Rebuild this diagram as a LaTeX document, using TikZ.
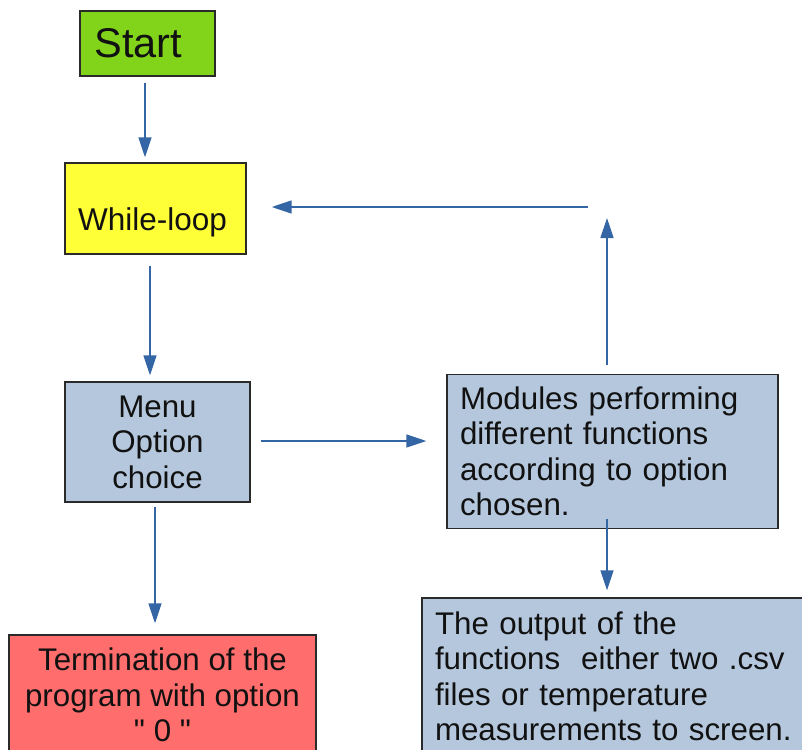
\documentclass[tikz,border=0pt]{standalone}
\usepackage{fontspec}
\setmainfont{Liberation Sans}[Ligatures=TeXOff]
\usetikzlibrary{arrows.meta,calc}
\definecolor{cgreen}{HTML}{81D41A}
\definecolor{cyellow}{HTML}{FFFF38}
\definecolor{cblue}{HTML}{B4C7DC}
\definecolor{cred}{HTML}{FF6D6D}
\definecolor{carrow}{HTML}{3465A4}
\definecolor{cborder}{HTML}{2A2A2A}
\definecolor{ctext}{HTML}{111111}
\tikzset{
  box/.style={draw=cborder, line width=1.4pt, rectangle, inner sep=0pt, text=ctext},
  txt/.style={text=ctext, inner sep=0pt},
  body/.style={font=\fontsize{31.3}{35.5}\selectfont},
  conn/.style={draw=carrow, line width=1.5pt, -{Triangle[length=20pt,width=13pt]}},
}
\begin{document}
\begin{tikzpicture}[x=1pt,y=-1pt]
\useasboundingbox (0,0) rectangle (802,749);
\begin{scope}
\clip (0,0) rectangle (802,749);
% boxes
\node[box, fill=cgreen, minimum width=135pt, minimum height=65pt] (start) at (147.5,43.5) {};
\node[txt, font=\fontsize{41.5}{46}\selectfont, anchor=west] (starttext) at (94.5,43) {Start};
\node[box, fill=cyellow, minimum width=181pt, minimum height=91pt] (while) at (155.5,208.5) {};
\node[txt, font=\fontsize{31.5}{36}\selectfont] (whiletext) at (152.5,222) {While-loop};
\node[box, fill=cblue, minimum width=185pt, minimum height=120pt, body, align=center] (menu) at (157.5,442) {Menu\\Option\\choice};
\node[box, fill=cblue, minimum width=331pt, minimum height=154pt, body, text width=305pt, align=left] (modules) at (612.5,451.5) {Modules performing\\different functions\\according to option\\chosen.};
\node[box, fill=cblue, minimum width=416pt, minimum height=157pt, body, text width=390pt, align=left] (output) at (630,676.5) {The output of the\\functions\ \ either two .csv\\files or temperature\\measurements to screen.};
\node[box, fill=cred, minimum width=307pt, minimum height=120pt, body, align=center] (term) at (162.5,695) {Termination of the\\program with option\\" 0 "};
\end{scope}
% connectors
\draw[conn] ($(start.south)+(-2.5,6)$) -- ($(while.north)+(-10.5,-5)$);
\draw[conn] ($(while.south)+(-5.5,11)$) -- ($(menu.north)+(-7.5,-6)$);
\draw[conn] ($(menu.south)+(-2.5,4)$) -- ($(term.north)+(-7.5,-11)$);
\draw[conn] ($(menu.east)+(10,-1)$) -- ($(modules.west)+(-20,-10.5)$);
\draw[conn] ($(modules.south)+(-5.5,-10)$) -- ($(output.north)+(-23,-7)$);
\coordinate (uphead) at (607,218);
\coordinate (looptail) at (588,207);
\draw[conn] ($(modules.north)+(-5.5,-9)$) -- (uphead);
\draw[conn] (looptail) -- ($(while.east)+(25,-1.5)$);
\end{tikzpicture}
\end{document}
